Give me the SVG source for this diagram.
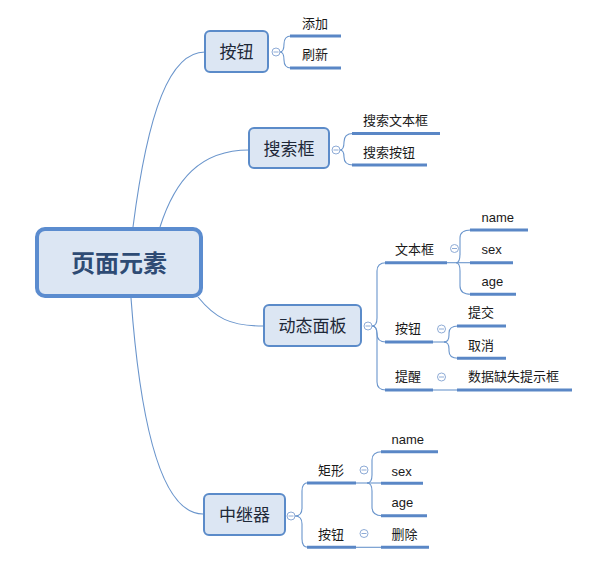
<svg xmlns="http://www.w3.org/2000/svg" width="602" height="565" viewBox="0 0 602 565">
<style>
.bg{fill:#ffffff}
.main{fill:#dce6f3;stroke:#5b8ccf;stroke-width:4}
.sub{fill:#dce6f3;stroke:#5b8bc9;stroke-width:2}
.mt{font-family:"Noto Sans CJK SC","Noto Sans",sans-serif;font-size:24px;font-weight:bold;fill:#2e4b74}
.st{font-family:"Noto Sans CJK SC","Noto Sans",sans-serif;font-size:17px;fill:#1e2838}
.lt{font-family:"Liberation Sans","Noto Sans CJK SC",sans-serif;font-size:13px;fill:#1a1a1a}
.ul{stroke:#5a87c6;stroke-width:3;fill:none}
.cn{stroke:#6a95cc;stroke-width:1.1;fill:none}
.cc{fill:#ffffff;stroke:#8eabd6;stroke-width:1}
.cm{stroke:#8eabd6;stroke-width:1}
</style>
<rect class="bg" x="0" y="0" width="602" height="565"/>
<g id="connectors">
<path class="cn" d="M133,227 C148,110 170,52 205,52"/>
<path class="cn" d="M160,227 C175,180 200,150 249,150"/>
<path class="cn" d="M198,297 C215,318 230,326 263,326"/>
<path class="cn" d="M131,298 C140,420 160,514 203,514"/>
<path class="cn" d="M280,52 Q284,52 284,44 Q284,36 291,36"/>
<path class="cn" d="M280,52 Q284,52 284,60 Q284,68 291,68"/>
<path class="cn" d="M340,150 Q344,150 344,142 Q344,133.5 353,133.5"/>
<path class="cn" d="M340,150 Q344,150 344,157 Q344,165 353,165"/>
<path class="cn" d="M372,326 Q377,326 377,318 L377,271 Q377,262.7 386,262.7"/>
<path class="cn" d="M372,326 Q377,326 377,334 Q377,342 386,342"/>
<path class="cn" d="M372,326 Q377,326 377,334 L377,382 Q377,390 386,390"/>
<path class="cn" d="M446,262.7 L471,262.7"/>
<path class="cn" d="M456,262.7 Q460,262.7 460,254 L460,238 Q460,230 471,230"/>
<path class="cn" d="M456,262.7 Q460,262.7 460,271 L460,286 Q460,294.3 471,294.3"/>
<path class="cn" d="M432,342 L446,342"/>
<path class="cn" d="M444,342 Q449,342 449,335 L449,333 Q449,326 458,326"/>
<path class="cn" d="M444,342 Q449,342 449,349 L449,351 Q449,358.3 458,358.3"/>
<path class="cn" d="M432,390 L458,390"/>
<path class="cn" d="M295,516 Q302,516 302,508 L302,491 Q302,482.7 308,482.7"/>
<path class="cn" d="M295,516 Q302,516 302,524 L302,539 Q302,547.3 308,547.3"/>
<path class="cn" d="M355,483 L382,483"/>
<path class="cn" d="M367,483 Q372,483 372,475 L372,460 Q372,451.7 382,451.7"/>
<path class="cn" d="M367,483 Q372,483 372,491 L372,507 Q372,515.7 382,515.7"/>
<path class="cn" d="M355,547.3 L382,547.3"/>
</g>
<g id="node-main">
<rect class="main" x="37" y="229" width="164" height="67" rx="8"/>
<text class="mt" x="119" y="272" text-anchor="middle">页面元素</text>
</g>
<g id="node-anniu">
<rect class="sub" x="205" y="31" width="63" height="41" rx="5"/>
<text class="st" x="236.5" y="58" text-anchor="middle">按钮</text>
<circle class="cc" cx="276" cy="52" r="4"/><line class="cm" x1="273.5" y1="52" x2="278.5" y2="52"/>
</g>
<g id="node-tianjia">
<text class="lt" x="302" y="27.5">添加</text>
<line class="ul" x1="290" y1="36" x2="341" y2="36"/>
</g>
<g id="node-shuaxin">
<text class="lt" x="302" y="59">刷新</text>
<line class="ul" x1="290" y1="68" x2="341" y2="68"/>
</g>
<g id="node-sousuokuang">
<rect class="sub" x="249" y="128" width="80" height="40" rx="5"/>
<text class="st" x="289" y="155" text-anchor="middle">搜索框</text>
<circle class="cc" cx="336" cy="150" r="4"/><line class="cm" x1="333.5" y1="150" x2="338.5" y2="150"/>
</g>
<g id="node-ssw">
<text class="lt" x="363" y="125">搜索文本框</text>
<line class="ul" x1="352" y1="133.5" x2="440" y2="133.5"/>
</g>
<g id="node-ssa">
<text class="lt" x="363" y="156.5">搜索按钮</text>
<line class="ul" x1="352" y1="165" x2="427" y2="165"/>
</g>
<g id="node-dongtai">
<rect class="sub" x="264" y="305" width="97" height="41" rx="5"/>
<text class="st" x="312.5" y="332" text-anchor="middle">动态面板</text>
<circle class="cc" cx="368" cy="326" r="4"/><line class="cm" x1="365.5" y1="326" x2="370.5" y2="326"/>
</g>
<g id="node-wenbenkuang">
<text class="lt" x="395" y="253.5">文本框</text>
<line class="ul" x1="385" y1="262.7" x2="447" y2="262.7"/>
<circle class="cc" cx="454.5" cy="248.5" r="4"/><line class="cm" x1="452" y1="248.5" x2="457" y2="248.5"/>
</g>
<g id="node-name1">
<text class="lt" x="481.5" y="222">name</text>
<line class="ul" x1="470" y1="230" x2="528" y2="230"/>
</g>
<g id="node-sex1">
<text class="lt" x="481.5" y="254">sex</text>
<line class="ul" x1="470" y1="262.7" x2="513" y2="262.7"/>
</g>
<g id="node-age1">
<text class="lt" x="481.5" y="286">age</text>
<line class="ul" x1="470" y1="294.3" x2="516" y2="294.3"/>
</g>
<g id="node-anniu2">
<text class="lt" x="395" y="333">按钮</text>
<line class="ul" x1="385" y1="342" x2="433" y2="342"/>
<circle class="cc" cx="441.5" cy="329" r="4"/><line class="cm" x1="439" y1="329" x2="444" y2="329"/>
</g>
<g id="node-tijiao">
<text class="lt" x="468" y="317">提交</text>
<line class="ul" x1="457" y1="326" x2="506" y2="326"/>
</g>
<g id="node-quxiao">
<text class="lt" x="468" y="349.5">取消</text>
<line class="ul" x1="457" y1="358.3" x2="506" y2="358.3"/>
</g>
<g id="node-tixing">
<text class="lt" x="395" y="381">提醒</text>
<line class="ul" x1="385" y1="390" x2="433" y2="390"/>
<circle class="cc" cx="441.5" cy="377" r="4"/><line class="cm" x1="439" y1="377" x2="444" y2="377"/>
</g>
<g id="node-shuju">
<text class="lt" x="468" y="381">数据缺失提示框</text>
<line class="ul" x1="457" y1="390" x2="572" y2="390"/>
</g>
<g id="node-zhongjiqi">
<rect class="sub" x="204" y="494" width="81" height="41" rx="5"/>
<text class="st" x="244.5" y="521" text-anchor="middle">中继器</text>
<circle class="cc" cx="291" cy="516" r="4"/><line class="cm" x1="288.5" y1="516" x2="293.5" y2="516"/>
</g>
<g id="node-juxing">
<text class="lt" x="318" y="474.5">矩形</text>
<line class="ul" x1="307" y1="483" x2="356" y2="483"/>
<circle class="cc" cx="364" cy="470" r="4"/><line class="cm" x1="361.5" y1="470" x2="366.5" y2="470"/>
</g>
<g id="node-name2">
<text class="lt" x="391.5" y="443.5">name</text>
<line class="ul" x1="381" y1="451.7" x2="438" y2="451.7"/>
</g>
<g id="node-sex2">
<text class="lt" x="391.5" y="475.5">sex</text>
<line class="ul" x1="381" y1="483.3" x2="423" y2="483.3"/>
</g>
<g id="node-age2">
<text class="lt" x="391.5" y="507">age</text>
<line class="ul" x1="381" y1="515.7" x2="427" y2="515.7"/>
</g>
<g id="node-anniu3">
<text class="lt" x="318" y="538.5">按钮</text>
<line class="ul" x1="307" y1="547.3" x2="356" y2="547.3"/>
<circle class="cc" cx="364" cy="533.5" r="4"/><line class="cm" x1="361.5" y1="533.5" x2="366.5" y2="533.5"/>
</g>
<g id="node-shanchu">
<text class="lt" x="391.5" y="538.5">删除</text>
<line class="ul" x1="381" y1="547.3" x2="429" y2="547.3"/>
</g>
</svg>
